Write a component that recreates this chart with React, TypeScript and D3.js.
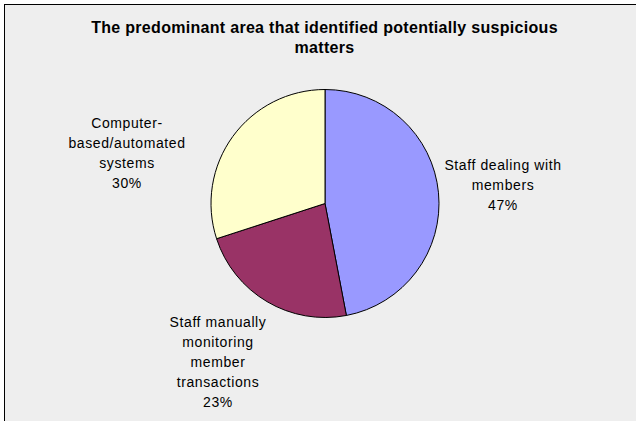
import React from "react";
import * as d3 from "d3";

const categories = [
  "Staff dealing with members",
  "Staff manually monitoring member transactions",
  "Computer-based/automated systems",
];
const values = [47, 23, 30];
const colors = ["#9999FF", "#993366", "#FFFFCC"];
const labelLines = [
  ["Staff dealing with", "members", "47%"],
  ["Staff manually", "monitoring", "member", "transactions", "23%"],
  ["Computer-", "based/automated", "systems", "30%"],
];
const titleLines = [
  "The predominant area that identified potentially suspicious",
  "matters",
];

const W = 636;
const H = 421;
const cx = 325;
const cy = 203.5;
const R = 114;
// label centers (x, first-line y)
const labelPos = [
  [503, 165],
  [218, 322],
  [127, 123],
];

export default function App() {
  const pie = d3
    .pie<number>()
    .sort(null)
    .value((d) => d)
    .startAngle(0)
    .endAngle(2 * Math.PI);
  const arcs = pie(values);
  const arc = d3.arc<d3.PieArcDatum<number>>().innerRadius(0).outerRadius(R);

  return (
    <svg
      width={W}
      height={H}
      style={{ position: "absolute", left: 0, top: 0, display: "block" }}
      fontFamily="'Liberation Sans', Arial, sans-serif"
    >
      <rect x={0} y={0} width={W} height={H} fill="#ffffff" />
      <rect x={4.5} y={4.5} width={W + 10} height={H + 10} fill="#EEEEEE" stroke="#000" strokeWidth={1} />
      {titleLines.map((t, i) => (
        <text
          key={i}
          x={324.5}
          y={32.7 + i * 20.6}
          textAnchor="middle"
          fontWeight="bold"
          fontSize={16}
          letterSpacing={0.3}
          fill="#000"
        >
          {t}
        </text>
      ))}
      <g transform={`translate(${cx},${cy})`}>
        {arcs.map((a, i) => (
          <path
            key={categories[i]}
            d={arc(a) || ""}
            fill={colors[i]}
            stroke="#000"
            strokeWidth={1}
          />
        ))}
      </g>
      {labelLines.map((lines, i) => (
        <g key={i}>
          {lines.map((l, j) => (
            <text
              key={j}
              x={labelPos[i][0]}
              y={labelPos[i][1] + j * 20 + 5}
              textAnchor="middle"
              fontSize={14}
              letterSpacing={0.6}
              fill="#000"
            >
              {l}
            </text>
          ))}
        </g>
      ))}
    </svg>
  );
}
